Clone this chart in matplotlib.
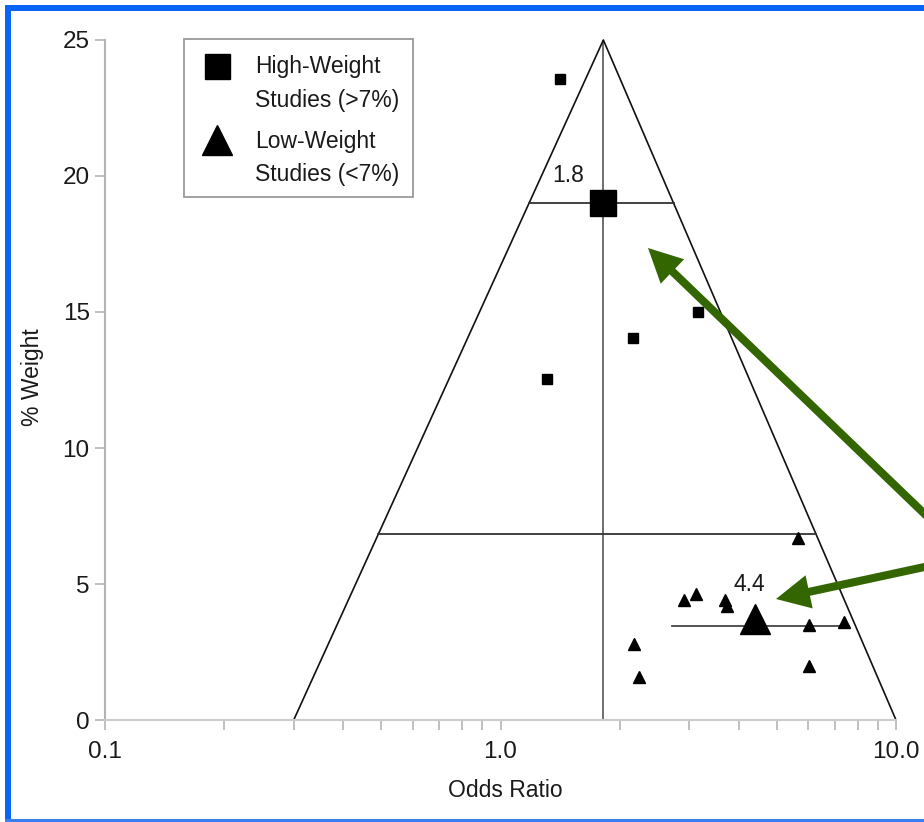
import matplotlib
matplotlib.use("Agg")
import numpy as np
import matplotlib.pyplot as plt
from matplotlib.lines import Line2D
from matplotlib.patches import Rectangle, FancyArrowPatch
from matplotlib.ticker import LogLocator, NullFormatter, FixedLocator

plt.rcParams['font.family'] = ['Liberation Sans', 'DejaVu Sans']

# ---------------- data ----------------
high_or = [1.41, 3.15, 2.16, 1.31]
high_w = [23.55, 15.0, 14.03, 12.54]

low_or = [5.64, 2.91, 3.12, 3.69, 3.73, 6.04, 7.4, 2.18, 2.24, 6.04]
low_w = [6.7, 4.41, 4.62, 4.41, 4.2, 3.49, 3.61, 2.79, 1.59, 1.99]

pooled_high_or, pooled_high_w, pooled_high_label = 1.82, 19.0, "1.8"
pooled_low_or, pooled_low_w, pooled_low_label = 4.4, 3.7, "4.4"

funnel_apex_or, funnel_apex_w = 1.82, 25.0
funnel_base_left, funnel_base_right = 0.3, 10.0

threshold_w = 6.83
low_ci_w = 3.46
low_ci = (2.71, 7.6)

x_ticks = [0.1, 1.0, 10.0]
x_tick_labels = ["0.1", "1.0", "10.0"]
y_ticks = [0, 5, 10, 15, 20, 25]

legend_lines = [("High-Weight", 66), ("Studies (>7%)", 100),
                ("Low-Weight", 141), ("Studies (<7%)", 175)]

W, H = 924, 822
TICK_FS = 17.5
TXT_FS = 16.5


def fx(px):
    return px / W


def fy(py):
    return 1 - py / H


def funnel_edges(w):
    t = w / funnel_apex_w
    la, ll, lr = np.log10(funnel_apex_or), np.log10(funnel_base_left), np.log10(funnel_base_right)
    return 10 ** (ll + t * (la - ll)), 10 ** (lr + t * (la - lr))


fig = plt.figure(figsize=(W / 100, H / 100), dpi=100)
fig.patch.set_facecolor('white')
ax = fig.add_axes([fx(105), fy(720), fx(896) - fx(105), fy(40) - fy(720)])
ax.set_xscale('log')
ax.set_xlim(0.1, 10)
ax.set_ylim(0, 25)
for s in ['top', 'right']:
    ax.spines[s].set_visible(False)
ax.spines['left'].set_color('#b4b4b4')
ax.spines['left'].set_linewidth(1.5)
ax.spines['bottom'].set_color('#cccccc')
ax.spines['bottom'].set_linewidth(1.5)

ax.xaxis.set_major_locator(FixedLocator(x_ticks))
ax.set_xticklabels(x_tick_labels)
ax.xaxis.set_minor_locator(LogLocator(base=10, subs=np.arange(2, 10)))
ax.xaxis.set_minor_formatter(NullFormatter())
ax.set_yticks(y_ticks)
ax.tick_params(axis='x', which='both', length=7, width=1.2, color='#b4b4b4',
               pad=8, labelsize=TICK_FS, labelcolor='#1a1a1a')
ax.tick_params(axis='y', length=7, width=1.2, color='#b4b4b4', pad=4,
               labelsize=TICK_FS, labelcolor='#1a1a1a')

# funnel
ax.plot([funnel_base_left, funnel_apex_or, funnel_base_right], [0, funnel_apex_w, 0],
        color='#111111', lw=1.2, clip_on=False, zorder=2)
ax.plot([funnel_apex_or, funnel_apex_or], [0, funnel_apex_w], color='#555555', lw=1.2,
        zorder=1)

# horizontal lines
l19, r19 = funnel_edges(pooled_high_w)
ax.plot([l19, r19], [pooled_high_w, pooled_high_w], color='#333333', lw=1.3, zorder=2)
lt, rt = funnel_edges(threshold_w)
ax.plot([lt, rt], [threshold_w, threshold_w], color='#333333', lw=1.3, zorder=2)
ax.plot(list(low_ci), [low_ci_w, low_ci_w], color='#444444', lw=1.3, zorder=2)

# markers
ax.plot(high_or, high_w, 's', ms=7, color='black', zorder=3, clip_on=False)
ax.plot(low_or, low_w, '^', ms=8, color='black', zorder=3, clip_on=False)
ax.plot(pooled_high_or, pooled_high_w, 's', ms=18.5, color='black', zorder=4)
ax.plot(pooled_low_or, pooled_low_w, '^', ms=21, color='black', zorder=4)

ax.annotate(pooled_high_label, (pooled_high_or, pooled_high_w), xytext=(-25, 20),
            textcoords='offset points', ha='center', va='center', fontsize=TXT_FS,
            color='#1a1a1a')
ax.annotate(pooled_low_label, (pooled_low_or, pooled_low_w), xytext=(-4, 25),
            textcoords='offset points', ha='center', va='center', fontsize=TXT_FS,
            color='#1a1a1a')

# axis labels
fig.text(fx(33), fy(377), '% Weight', rotation=90, ha='center', va='center',
         fontsize=TXT_FS, color='#1a1a1a')
fig.text(fx(505), fy(790), 'Odds Ratio', ha='center', va='center', fontsize=TXT_FS,
         color='#1a1a1a')

# legend box (manual)
fig.add_artist(Rectangle((fx(184), fy(197)), fx(413) - fx(184), fy(39) - fy(197),
                         transform=fig.transFigure, facecolor='white',
                         edgecolor='#9a9a9a', lw=1.3, zorder=5))
fig.add_artist(Line2D([fx(217)], [fy(66)], marker='s', ms=18, color='black',
                      ls='none', transform=fig.transFigure, zorder=6))
fig.add_artist(Line2D([fx(217)], [fy(140)], marker='^', ms=21, color='black',
                      ls='none', transform=fig.transFigure, zorder=6))
for txt, y in legend_lines:
    fig.text(fx(255), fy(y), txt, ha='left', va='center', fontsize=TXT_FS,
             color='#1a1a1a', zorder=7)

# arrows
green = '#336600'
for tail, tip in [((960, 548), (648, 248)), ((980, 555), (776, 599))]:
    fig.add_artist(FancyArrowPatch((fx(tail[0]), fy(tail[1])), (fx(tip[0]), fy(tip[1])),
                                   transform=fig.transFigure,
                                   arrowstyle='-|>,head_length=15,head_width=7.5',
                                   mutation_scale=1, color=green, lw=5.8,
                                   joinstyle='miter', capstyle='butt',
                                   shrinkA=0, shrinkB=0, zorder=8))

# blue frame
blue = '#0a64f5'
fig.add_artist(Rectangle((fx(5), fy(822)), fx(6), fy(5) - fy(822), transform=fig.transFigure,
                         facecolor=blue, edgecolor='none', zorder=9))
fig.add_artist(Rectangle((fx(5), fy(11)), 1, fy(5) - fy(11), transform=fig.transFigure,
                         facecolor=blue, edgecolor='none', zorder=9))
fig.add_artist(Rectangle((fx(5), fy(822)), 1, fy(819) - fy(822), transform=fig.transFigure,
                         facecolor='#3a7ef0', edgecolor='none', zorder=9))

fig.savefig('out.png', dpi=100, facecolor='white')
